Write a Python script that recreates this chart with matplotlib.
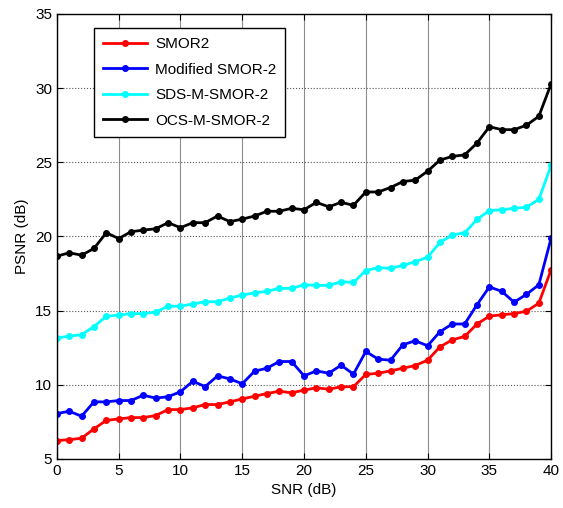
import matplotlib
matplotlib.use("Agg")
from matplotlib import pyplot as plt

snr = list(range(0, 41))

smor2 = [6.24, 6.3, 6.4, 7.03, 7.6, 7.7, 7.79, 7.79, 7.93, 8.33,
         8.33, 8.45, 8.67, 8.67, 8.85, 9.05, 9.23, 9.41, 9.57, 9.46,
         9.64, 9.8, 9.7, 9.87, 9.87, 10.7, 10.78, 10.94, 11.12, 11.3,
         11.66, 12.56, 13.03, 13.26, 14.1, 14.63, 14.72, 14.8, 14.96, 15.5,
         17.77]
modified = [8.06, 8.22, 7.88, 8.85, 8.85, 8.94, 8.94, 9.3, 9.1, 9.2,
            9.53, 10.24, 9.88, 10.6, 10.4, 10.07, 10.92, 11.12, 11.57, 11.57,
            10.6, 10.94, 10.78, 11.32, 10.72, 12.25, 11.73, 11.66, 12.7, 12.97,
            12.63, 13.58, 14.1, 14.1, 15.4, 16.6, 16.3, 15.57, 16.1, 16.74,
            19.9]
sds = [13.15, 13.28, 13.38, 13.92, 14.62, 14.7, 14.8, 14.8, 14.9, 15.3,
       15.3, 15.45, 15.6, 15.6, 15.85, 16.05, 16.2, 16.3, 16.5, 16.5,
       16.75, 16.7, 16.7, 16.95, 16.9, 17.7, 17.9, 17.85, 18.05, 18.3,
       18.6, 19.6, 20.1, 20.25, 21.15, 21.75, 21.8, 21.9, 21.97, 22.5,
       24.8]
ocs = [18.67, 18.9, 18.74, 19.19, 20.25, 19.86, 20.32, 20.43, 20.52, 20.93,
       20.59, 20.93, 20.93, 21.38, 21.0, 21.17, 21.38, 21.7, 21.7, 21.9,
       21.8, 22.3, 22.0, 22.3, 22.1, 23.0, 23.0, 23.3, 23.7, 23.8,
       24.4, 25.15, 25.4, 25.5, 26.3, 27.4, 27.2, 27.2, 27.5, 28.1,
       30.3]

plt.rcParams['font.family'] = ['Liberation Sans', 'DejaVu Sans']

fig = plt.figure(figsize=(5.63, 5.08), dpi=100)
ax = fig.add_axes([0.101, 0.0965, 0.878, 0.876])

ax.plot(snr, smor2, '-', color='red', lw=2, marker='.', ms=8, label='SMOR2')
ax.plot(snr, modified, '-', color='blue', lw=2, marker='.', ms=8, label='Modified SMOR-2')
ax.plot(snr, sds, '-', color='cyan', lw=2, marker='.', ms=8, label='SDS-M-SMOR-2')
ax.plot(snr, ocs, '-', color='black', lw=2, marker='.', ms=8, label='OCS-M-SMOR-2')

ax.set_xlim(0, 40)
ax.set_ylim(5, 35)
ax.set_xticks(range(0, 41, 5))
ax.set_yticks(range(5, 36, 5))
ax.tick_params(direction='in', top=True, right=True, labelsize=11, length=4)
ax.xaxis.grid(True, color='0.55', linestyle='-', lw=0.8)
ax.yaxis.grid(True, color='0.35', linestyle=':', lw=0.8)
ax.set_axisbelow(True)
for s in ax.spines.values():
    s.set_linewidth(1)

ax.set_xlabel('SNR (dB)', fontsize=11)
ax.set_ylabel('PSNR (dB)', fontsize=11)

leg = ax.legend(loc='upper left', bbox_to_anchor=(0.075, 0.9685), fontsize=11,
                handlelength=2.9, handletextpad=0.5, borderaxespad=0,
                fancybox=False, edgecolor='black', framealpha=1,
                borderpad=0.6, labelspacing=0.75)
leg.get_frame().set_linewidth(1)

fig.savefig('out.png', dpi=100)
